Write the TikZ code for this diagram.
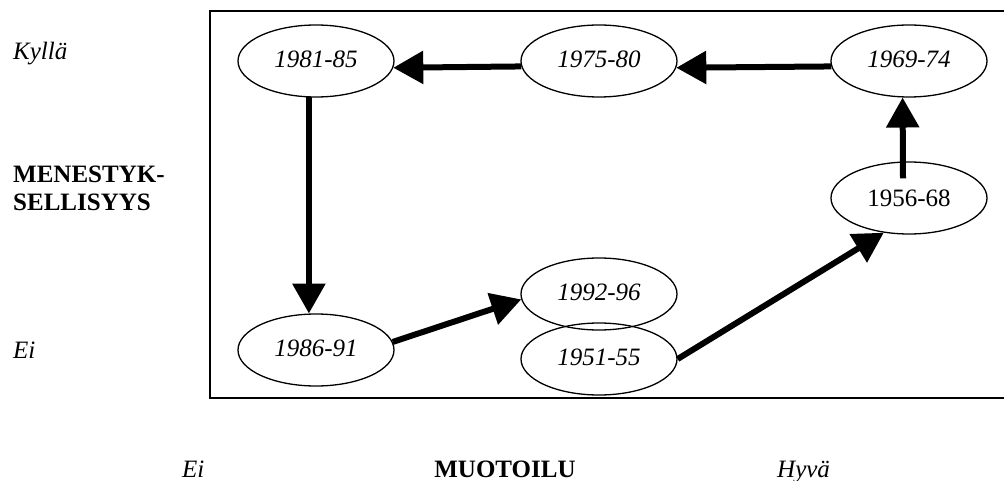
\documentclass[tikz,border=0pt]{standalone}
\usepackage{fontspec}
\setmainfont{Liberation Serif}
\usetikzlibrary{arrows.meta,shapes.geometric}
\begin{document}
\begin{tikzpicture}[x=1pt,y=-1pt,
  yr/.style={ellipse,draw,line width=1.3pt,minimum width=156pt,minimum height=72pt,inner sep=0pt,text height=17pt,text depth=4pt,font=\fontsize{25}{30}\selectfont\itshape},
  big/.style={line width=6pt,-{Triangle[length=30pt,width=32pt]}},
  lbl/.style={font=\fontsize{25}{28}\selectfont, inner sep=0pt, anchor=base west}]
\useasboundingbox (0,0) rectangle (1004,481);
\draw[line width=1.8pt] (1012,11) -| (210,398) -- (1012,398);
\node[yr] (a) at (316,61) {1981-85};
\node[yr] (b) at (599,61) {1975-80};
\node[yr] (c) at (909,61) {1969-74};
\node[yr,text height=17pt,text depth=0pt,font=\fontsize{25}{30}\selectfont\upshape] (d) at (909,198) {1956-68};
\node[yr] (e) at (599,294) {1992-96};
\node[yr] (f) at (599,359) {1951-55};
\node[yr] (g) at (316,350) {1986-91};
\draw[big] (c.184.5) -- (b.355.5);
\draw[big] (b.184.5) -- (a.355.5);
\draw[big] (a.259) -- (g.101);
\draw[big] (g.6) -- (e.184);
\draw[big] (f.0) -- (d.234);
\draw[big] ([shift={(-6,17)}]d.north) -- (c.260.5);
\node[lbl,font=\fontsize{25}{28}\selectfont\itshape] (kylla) at (13,60) {Kyllä};
\node[lbl,font=\fontsize{25}{28}\selectfont\bfseries] (men1) at (13,183) {MENESTYK-};
\node[lbl,font=\fontsize{25}{28}\selectfont\bfseries] (men2) at (13,211) {SELLISYYS};
\node[lbl,font=\fontsize{25}{28}\selectfont\itshape] (eiL) at (13,358) {Ei};
\node[lbl,font=\fontsize{25}{28}\selectfont\itshape] (eiB) at (182,477) {Ei};
\node[lbl,anchor=base,font=\fontsize{25}{28}\selectfont\bfseries] (muo) at (505,477) {MUOTOILU};
\node[lbl,font=\fontsize{25}{28}\selectfont\itshape] (hyva) at (777,477) {Hyvä};
\end{tikzpicture}
\end{document}
